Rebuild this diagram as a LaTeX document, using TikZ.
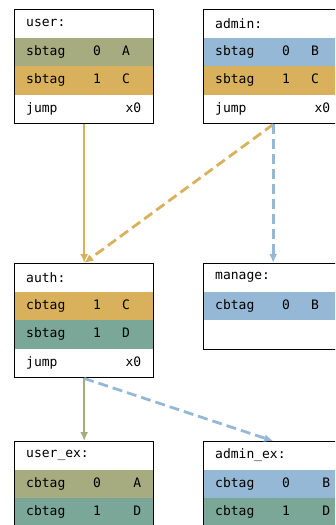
\documentclass[tikz,border=0pt]{standalone}
\usepackage{fontspec}
\setmonofont{DejaVu Sans Mono}
\usetikzlibrary{arrows.meta}

\definecolor{tagolive}{HTML}{A6AB80}
\definecolor{taggold}{HTML}{D9B15D}
\definecolor{tagblue}{HTML}{94B8D6}
\definecolor{tagteal}{HTML}{7BA798}

% one row of a block: name, x, y, fill, text
\newcommand{\blockrow}[5]{\node[row, fill=#4] (#1) at (#2,#3) {#5};}
\newcommand{\tagcols}[3]{\makebox[67pt][l]{#1}\makebox[29pt][l]{#2}#3}
\newcommand{\tagright}[3]{\makebox[67pt][l]{#1}#2\hfill #3}

\begin{document}
\begin{tikzpicture}[x=1pt,y=-1pt]
\tikzset{row/.style = {shape=rectangle, anchor=north west, minimum width=139pt, minimum height=28.5pt, text width=115pt, inner xsep=12pt, inner ysep=0pt, font=\ttfamily\fontsize{13}{15}\selectfont}}
\tikzset{block/.style = {shape=rectangle, draw=black, line width=1.4pt, anchor=north west, minimum width=139pt, inner sep=0pt}}
\tikzset{edge/.style = {->,> = {Latex[length=9pt,width=8pt]}, line width=2.2pt}}
\tikzset{dedge/.style = {edge, line width=2.8pt, dash pattern=on 10pt off 5pt}}
\useasboundingbox (0,0) rectangle (335,525);
\clip (0,0) rectangle (335,525);

% user
\blockrow{user0}{14}{9}{white}{user:}
\blockrow{user1}{14}{37.5}{tagolive}{\tagcols{sbtag}{0}{A}}
\blockrow{user2}{14}{66}{taggold}{\tagcols{sbtag}{1}{C}}
\blockrow{user3}{14}{94.5}{white}{jump\hfill x0}
\node[block, minimum height=114pt] (user) at (14,9) {};

% admin
\blockrow{admin0}{203}{9}{white}{admin:}
\blockrow{admin1}{203}{37.5}{tagblue}{\tagcols{sbtag}{0}{B}}
\blockrow{admin2}{203}{66}{taggold}{\tagcols{sbtag}{1}{C}}
\blockrow{admin3}{203}{94.5}{white}{jump\hfill x0}
\node[block, minimum height=114pt] (admin) at (203,9) {};

% auth
\blockrow{auth0}{14}{263}{white}{auth:}
\blockrow{auth1}{14}{291.5}{taggold}{\tagcols{cbtag}{1}{C}}
\blockrow{auth2}{14}{320}{tagteal}{\tagcols{sbtag}{1}{D}}
\blockrow{auth3}{14}{348.5}{white}{jump\hfill x0}
\node[block, minimum height=114pt] (auth) at (14,263) {};

% manage
\blockrow{manage0}{203}{263}{white}{manage:}
\blockrow{manage1}{203}{291.5}{tagblue}{\tagcols{cbtag}{0}{B}}
\node[block, minimum height=85.5pt] (manage) at (203,263) {};

% user_ex
\blockrow{userex0}{14}{441}{white}{user\_ex:}
\blockrow{userex1}{14}{469.5}{tagolive}{\tagright{cbtag}{0}{A}}
\blockrow{userex2}{14}{498}{tagteal}{\tagright{cbtag}{1}{D}}
\node[block, minimum height=114pt] (userex) at (14,441) {};

% admin_ex
\blockrow{adminex0}{203}{441}{white}{admin\_ex:}
\blockrow{adminex1}{203}{469.5}{tagblue}{\tagright{cbtag}{0}{B}}
\blockrow{adminex2}{203}{498}{tagteal}{\tagright{cbtag}{1}{D}}
\node[block, minimum height=114pt] (adminex) at (203,441) {};

\draw[edge][taggold] (user) to (auth);
\draw[dedge][taggold] (admin.south) to (auth.north);
\draw[dedge][tagblue] (admin) to (manage);
\draw[edge][tagolive] (auth) to (userex);
\draw[dedge][tagblue] (auth.south) to (adminex.north);
\end{tikzpicture}
\end{document}
